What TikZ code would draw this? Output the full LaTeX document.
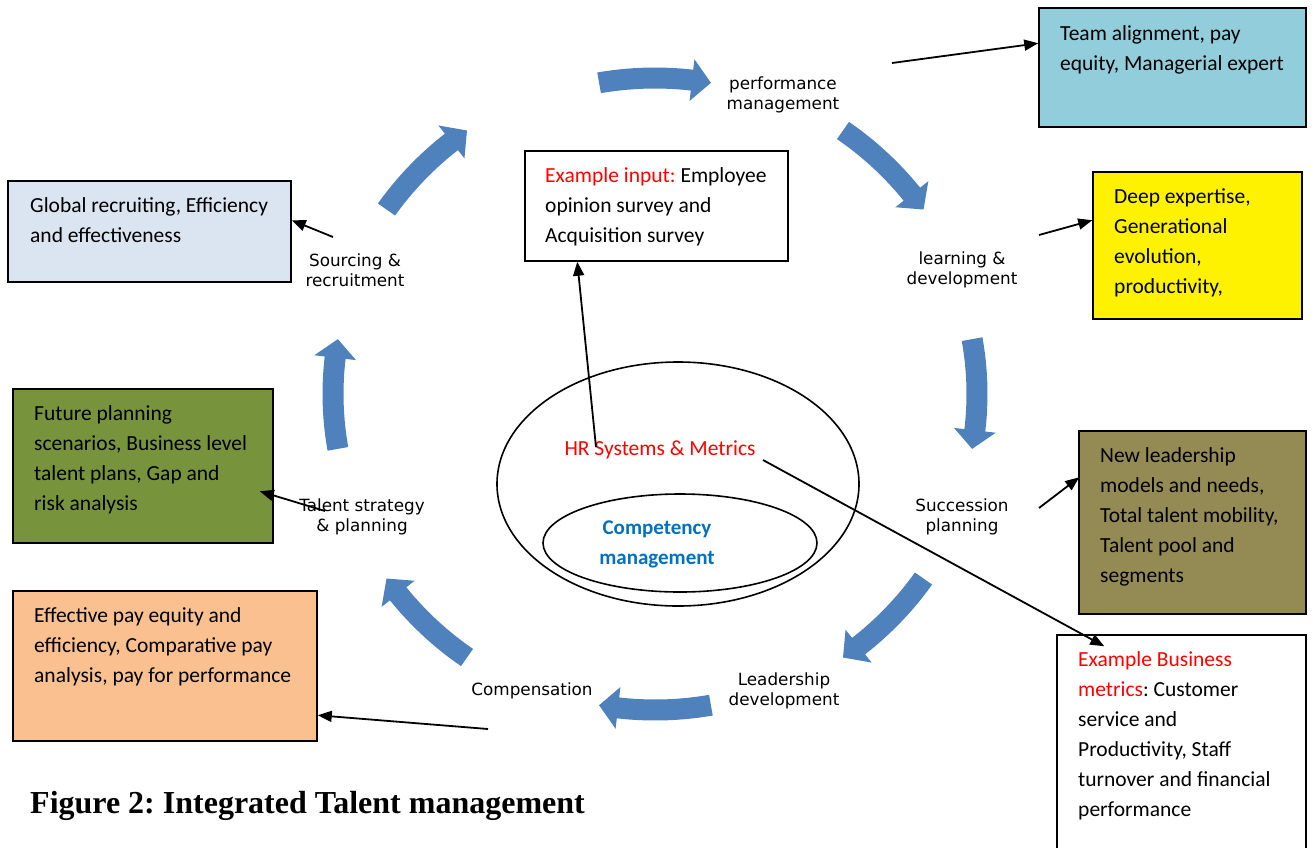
\documentclass[tikz,border=0pt]{standalone}
\usepackage{fontspec}
\setmainfont{Carlito}
\newfontfamily\lblfont{DejaVu Sans}
\newfontfamily\capfont{Liberation Serif}
\usetikzlibrary{arrows.meta,calc}
\definecolor{blockblue}{HTML}{4F81BD}
\definecolor{tealbox}{HTML}{92CDDC}
\definecolor{olivebox}{HTML}{948A54}
\definecolor{paleblue}{HTML}{DBE5F1}
\definecolor{greenbox}{HTML}{77933C}
\definecolor{orangebox}{HTML}{FAC08F}
\definecolor{compblue}{HTML}{0070C0}
\newcommand{\firstl}{\rule{0pt}{20pt}}
\frenchspacing
\begin{document}
\begin{tikzpicture}[x=1pt,y=-1pt,
  infobox/.style={draw=black, line width=1.5pt, inner sep=0pt},
  boxtxt/.style={anchor=north west, inner sep=0pt, align=left, font=\fontsize{21.5}{30}\selectfont},
  steplabel/.style={align=center, inner sep=1pt, font=\lblfont\fontsize{16.8}{20.5}\selectfont},
  conn/.style={line width=1.8pt, -{Triangle[length=14pt,width=11pt]}},
  ring/.style={line width=1.6pt}]
\clip (0,0) rectangle (1312,847);
\fill[white] (0,0) rectangle (1312,847);

% curved block arrows
\foreach \c in {-90,-45,0,45,90,135,180,225}{
  \pgfmathsetmacro\s{\c-10}
  \pgfmathsetmacro\h{\c+6.6}
  \pgfmathsetmacro\e{\c+10}
  \pgfmathsetmacro\k{1+0.018*abs(sin(2*\c))}
  \pgfmathsetmacro\rx{322*\k}
  \pgfmathsetmacro\ry{316*\k}
  \fill[blockblue]
    plot[domain=\s:\h,samples=14,variable=\t] ({655+(\rx+10.5)*cos(\t)},{394+(\ry+10.5)*sin(\t)})
    -- ({655+(\rx+21)*cos(\h)},{394+(\ry+21)*sin(\h)})
    -- ({655+\rx*cos(\e)},{394+\ry*sin(\e)})
    -- ({655+(\rx-21)*cos(\h)},{394+(\ry-21)*sin(\h)})
    -- plot[domain=\h:\s,samples=14,variable=\t] ({655+(\rx-10.5)*cos(\t)},{394+(\ry-10.5)*sin(\t)})
    -- cycle;
}

% info boxes
\node[infobox, fill=tealbox, minimum width=267pt, minimum height=119pt] (tb) at (1172.5,67.5) {};
\node[infobox, fill=yellow, minimum width=209pt, minimum height=147pt] (yb) at (1197.5,245.5) {};
\node[infobox, fill=olivebox, minimum width=227pt, minimum height=183pt] (ob) at (1192.5,522.5) {};
\node[infobox, fill=white, minimum width=249pt, minimum height=240pt] (mb) at (1181.5,755) {};
\node[infobox, fill=white, minimum width=263pt, minimum height=110pt] (eb) at (656.5,206) {};
\node[infobox, fill=paleblue, minimum width=283pt, minimum height=101pt] (sb) at (149.5,231.5) {};
\node[infobox, fill=greenbox, minimum width=260pt, minimum height=154pt] (gb) at (143,466) {};
\node[infobox, fill=orangebox, minimum width=304pt, minimum height=150pt] (pb) at (165,666) {};

\node[boxtxt] (tbt) at (1060,20) {\firstl Team alignment, pay\\equity, Managerial expert};
\node[boxtxt] (ybt) at (1114,183) {\firstl Deep expertise,\\Generational\\evolution,\\productivity,};
\node[boxtxt] (obt) at (1100,442) {\firstl New leadership\\models and needs,\\Total talent mobility,\\Talent pool and\\segments};
\node[boxtxt] (mbt) at (1078,646) {\firstl\textcolor{red}{Example Business}\\\textcolor{red}{metrics}: Customer\\service and\\Productivity, Staff\\turnover and financial\\performance};
\node[boxtxt] (ebt) at (545,162) {\firstl\textcolor{red}{Example input:} Employee\\opinion survey and\\Acquisition survey};
\node[boxtxt] (sbt) at (30,192) {\firstl Global recruiting, Efficiency\\and effectiveness};
\node[boxtxt] (gbt) at (34,400) {\firstl Future planning\\scenarios, Business level\\talent plans, Gap and\\risk analysis};
\node[boxtxt] (pbt) at (34,602) {\firstl Effective pay equity and\\efficiency, Comparative pay\\analysis, pay for performance};

% cycle labels
\node[steplabel] (pm) at (783,95) {performance\\management};
\node[steplabel] (ld) at (962,270) {learning \&\\development};
\node[steplabel] (sp) at (962,517) {Succession\\planning};
\node[steplabel] (lead) at (784,691) {Leadership\\development};
\node[steplabel] (comp) at (532,691) {Compensation};
\node[steplabel] (ts) at (362,517) {Talent strategy\\\& planning};
\node[steplabel] (sr) at (355,270) {Sourcing \&\\recruitment};

% centre ellipses
\draw[ring] (678,484) ellipse [x radius=181, y radius=122];
\draw[ring] (680,543) ellipse [x radius=137, y radius=49];
\node[text=red, font=\fontsize{21.5}{24}\selectfont, inner sep=0pt] (hr) at (660,450) {HR Systems \& Metrics};
\node[text=compblue, align=center, font=\bfseries\fontsize{21}{30}\selectfont, inner sep=0pt] (cm) at (657,544) {Competency\\management};

% connectors
\coordinate (pmS) at (892,63);
\coordinate (ldS) at (1039,235);
\coordinate (spS) at (1039,508);
\coordinate (compS) at (488,729);
\coordinate (srS) at (333,237);
\coordinate (tsS) at (325,511);
\coordinate (hrA) at (596,447);
\coordinate (hrB) at (763,460);
\draw[conn] (pmS) -- ($(tb.north west)+(0,36)$);
\draw[conn] (ldS) -- ($(yb.north west)+(0,49)$);
\draw[conn] (spS) -- ($(ob.north west)+(1,47)$);
\draw[conn] (compS) -- ($(pb.north east)+(0,125)$);
\draw[conn] (srS) -- ($(sb.north east)+(0,40)$);
\draw[conn] (tsS) -- ($(gb.north east)+(-14,103)$);
\draw[conn] (hrA) -- ($(eb.south west)+(53,0)$);
\draw[conn] (hrB) -- ($(mb.north west)+(48,12)$);

% caption
\node[anchor=base west, inner sep=0pt, font=\capfont\bfseries\fontsize{32}{38}\selectfont] (cap) at (30,813) {Figure 2: Integrated Talent management};
\end{tikzpicture}
\end{document}
